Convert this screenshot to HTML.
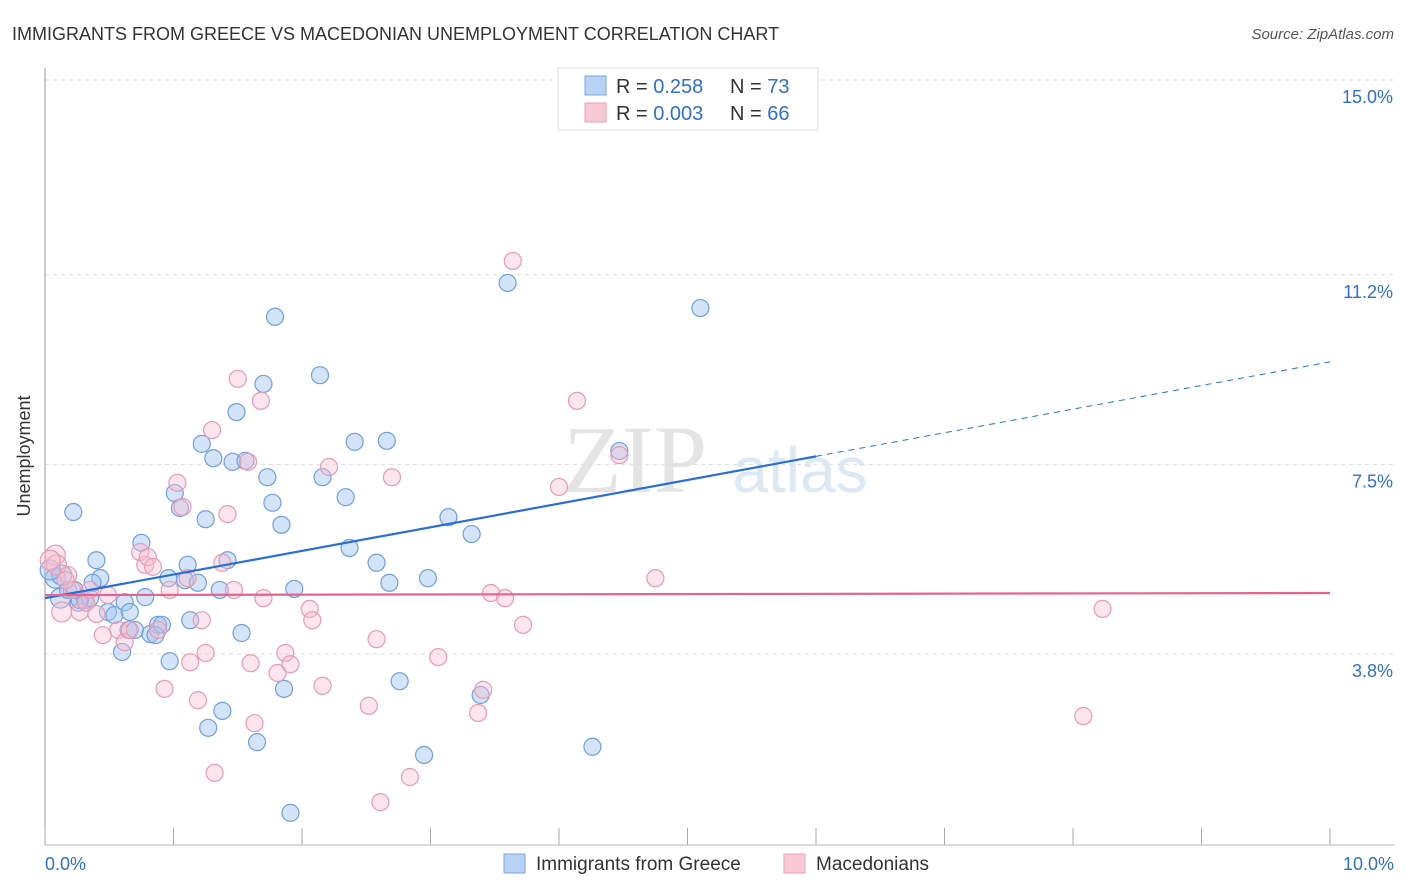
<!DOCTYPE html>
<html><head><meta charset="utf-8"><style>
body{margin:0;background:#fff;font-family:"Liberation Sans",sans-serif;}
#wrap{position:relative;width:1406px;height:892px;overflow:hidden;}
</style></head><body>
<div id="wrap">
<svg id="svg" width="1406" height="892">
<text x="12" y="40" font-size="18" fill="#333">IMMIGRANTS FROM GREECE VS MACEDONIAN UNEMPLOYMENT CORRELATION CHART</text>
<text x="1394" y="39" font-size="15" fill="#555" text-anchor="end" font-style="italic">Source: ZipAtlas.com</text>
<text x="30" y="456" font-size="18" fill="#333" text-anchor="middle" transform="rotate(-90 30 456)">Unemployment</text>
<text x="635" y="492" font-size="96" fill="#e4e4e4" font-family="Liberation Serif, serif" text-anchor="middle">ZIP</text>
<text x="800" y="492" font-size="64" fill="#dde8f5" text-anchor="middle">atlas</text>
<g id="grid"></g><g id="axes"></g><g id="pts"></g><g id="lines"></g>
<g>
<rect x="558" y="68" width="260" height="62" fill="#fff" stroke="#ddd"/>
<rect x="585" y="76" width="21" height="19" fill="#b8d2f5" stroke="#7aa6e0"/>
<rect x="585" y="103" width="21" height="19" fill="#f8c8d6" stroke="#eba0b6"/>
<text x="616" y="93" font-size="20" fill="#333">R = <tspan fill="#2f6fd1"> 0.258</tspan><tspan x="730">N = </tspan><tspan fill="#2f6fd1">73</tspan></text>
<text x="616" y="120" font-size="20" fill="#333">R = <tspan fill="#2f6fd1">0.003</tspan><tspan x="730">N = </tspan><tspan fill="#2f6fd1">66</tspan></text>
</g>
<g>
<rect x="504" y="854" width="21" height="19" fill="#b8d2f5" stroke="#7aa6e0"/>
<text x="536" y="870" font-size="19" fill="#333">Immigrants from Greece</text>
<rect x="784" y="854" width="21" height="19" fill="#f8c8d6" stroke="#eba0b6"/>
<text x="816" y="870" font-size="19" fill="#333">Macedonians</text>
</g>
</svg></div>
<script>
const xTicks=[0,1,2,3,4,5,6,7,8,9,10];
const yTicks=[15.0,11.2,7.5,3.8];
const yTickLabels=["15.0%","11.2%","7.5%","3.8%"];
const greeceX=[.08,.12,.18,.26,.31,.35,.22,.40,.43,.37,.49,.54,.62,.66,.60,.65,.70,.78,.75,.82,.88,.91,.86,.96,.97,1.01,1.05,1.09,1.11,1.13,1.19,1.22,1.25,1.31,1.36,1.38,1.42,1.27,1.46,1.49,1.53,1.56,1.65,1.70,1.73,1.77,1.79,1.84,1.86,1.91,1.94,2.14,2.16,2.34,2.37,2.41,2.58,2.66,2.68,2.76,2.95,2.98,3.14,3.32,3.39,3.60,4.26,4.47,5.10,.13,.27,.04,.23];
const greeceY=[5.28,4.89,5.05,4.80,4.85,4.89,6.57,5.63,5.28,5.19,4.62,4.56,4.81,4.62,3.84,4.27,4.27,4.91,5.97,4.19,4.37,4.37,4.17,5.28,3.66,6.94,6.65,5.24,5.54,4.46,5.19,7.90,6.43,7.62,5.05,2.69,5.63,2.36,7.55,8.52,4.21,7.57,2.08,9.07,7.25,6.75,10.38,6.32,3.12,0.70,5.07,9.24,7.25,6.86,5.87,7.94,5.58,7.96,5.19,3.27,1.83,5.28,6.47,6.14,3.00,11.04,1.99,7.76,10.55,5.34,4.85,5.44,5.05];
const macX=[.08,.09,.13,.18,.27,.32,.35,.40,.45,.49,.57,.62,.66,.74,.78,.80,.84,.88,.93,.97,1.03,1.07,1.11,1.13,1.19,1.22,1.25,1.30,1.32,1.38,1.42,1.47,1.50,1.58,1.60,1.63,1.68,1.70,1.81,1.87,1.91,2.06,2.08,2.16,2.21,2.52,2.58,2.61,2.70,2.84,3.06,3.37,3.41,3.47,3.58,3.64,3.72,4.00,4.14,4.47,4.75,8.08,8.23,.21,.04,.16];
const macY=[5.73,5.54,4.62,5.34,4.62,4.80,5.05,4.58,4.17,4.95,4.27,4.03,4.27,5.79,5.54,5.69,5.50,4.27,3.12,5.05,7.14,6.67,5.28,3.64,2.90,4.46,3.82,8.17,1.48,5.58,6.53,5.05,9.17,7.55,3.62,2.45,8.74,4.89,3.43,3.82,3.60,4.68,4.46,3.18,7.45,2.79,4.09,0.91,7.25,1.40,3.74,2.65,3.10,4.99,4.89,11.47,4.37,7.06,8.74,7.68,5.28,2.59,4.68,5.05,5.63,5.24];
const greeceTrend=[4.89,9.50];
const macTrend=[4.95,4.99];
const NS='http://www.w3.org/2000/svg';
const sx=v=>45+v*128.5;
const sy=v=>80+(15-v)*51.25;
function mk(tag,attrs,parent){const e=document.createElementNS(NS,tag);for(const k in attrs)e.setAttribute(k,attrs[k]);document.getElementById(parent).appendChild(e);return e;}
yTicks.forEach((t,i)=>{
 const g=mk('line',{x1:45,x2:1394,y1:sy(t),y2:sy(t),stroke:'#ddd','stroke-dasharray':'4,4'},'grid');
 
 
 const l=mk('text',{x:1393,y:sy(t)+23,'font-size':18,fill:'#2f6fd1','text-anchor':'end'},'grid');
 l.textContent=yTickLabels[i];
 
 
});
const ax=mk('line',{x1:45,x2:45,y1:68,y2:845,stroke:'#999'},'axes');


const bx=mk('line',{x1:45,x2:1394,y1:845,y2:845,stroke:'#bbb'},'axes');


xTicks.forEach(t=>{
 const k=mk('line',{x1:sx(t),x2:sx(t),y1:828,y2:845,stroke:'#aaa'},'axes');
 
 
});
const xl0=mk('text',{x:45,y:870,'font-size':18,fill:'#2f6fd1'},'axes');xl0.textContent=xTicks[0].toFixed(1)+'%';


const xl1=mk('text',{x:1394,y:870,'font-size':18,fill:'#2f6fd1','text-anchor':'end'},'axes');xl1.textContent=xTicks[10].toFixed(1)+'%';


function pts(X,Y,fill,stroke,name){X.forEach((x,i)=>{
 const c=mk('circle',{cx:sx(x),cy:sy(Y[i]),r:(x<0.15?10:8.5),fill:fill,stroke:stroke,'stroke-width':1.2},'pts');
 
 
});}
pts(greeceX,greeceY,'rgba(160,195,240,0.45)','#6f9fdf','point-greece');
pts(macX,macY,'rgba(248,190,208,0.4)','#e99ab3','point-macedonian');
const ym=greeceTrend[0]+(greeceTrend[1]-greeceTrend[0])*0.6;
const b1=mk('line',{x1:sx(0),y1:sy(greeceTrend[0]),x2:sx(6),y2:sy(ym),stroke:'#2a6fd6','stroke-width':2.2},'lines');


const b2=mk('line',{x1:sx(6),y1:sy(ym),x2:sx(10),y2:sy(greeceTrend[1]),stroke:'#2a6fd6','stroke-width':1,'stroke-dasharray':'6,5'},'lines');


const p1=mk('line',{x1:sx(0),y1:sy(macTrend[0]),x2:sx(10),y2:sy(macTrend[1]),stroke:'#e4648f','stroke-width':2.2},'lines');


</script>
</body></html>
